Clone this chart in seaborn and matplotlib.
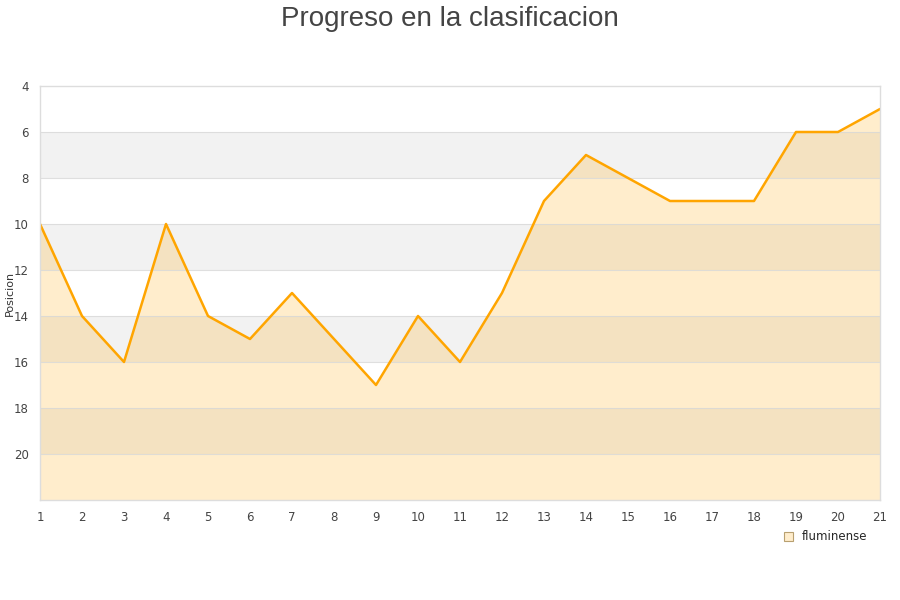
import matplotlib
matplotlib.use("Agg")
import matplotlib.pyplot as plt
import seaborn as sns
import pandas as pd
from matplotlib.patches import Patch

jornadas = list(range(1, 22))
posiciones = [10, 14, 16, 10, 14, 15, 13, 15, 17, 14, 16, 13, 9, 7, 8, 9, 9, 9, 6, 6, 5]
equipo = "fluminense"
titulo = "Progreso en la clasificacion"
ylab = "Posicion"

df = pd.DataFrame({"Jornada": jornadas, "Posicion": posiciones})

sns.set_style("white")
plt.rcParams['font.family'] = ['DejaVu Sans']

fig = plt.figure(figsize=(9, 6), dpi=100)
ax = fig.add_axes([40/900, 100/600, 840/900, 414/600])

ymin, ymax = 4, 22
# alternating bands
for y0 in range(4, 22, 2):
    if ((y0 - 4) // 2) % 2 == 1:
        ax.axhspan(y0, y0 + 2, color="#f2f2f2", zorder=0, lw=0)
for y in range(6, 22, 2):
    ax.axhline(y, color="#d8d8d8", lw=0.8, alpha=0.8, zorder=1.5)

ax.fill_between(df["Jornada"], df["Posicion"], ymax, color="#ffa500", alpha=0.2, lw=0, zorder=1)
sns.lineplot(data=df, x="Jornada", y="Posicion", ax=ax, color="#ffa500", lw=1.8, zorder=2)

ax.set_xlim(1, 21)
ax.set_ylim(ymax, ymin)
ax.set_xticks(jornadas)
ax.set_yticks(range(4, 21, 2))
ax.tick_params(axis="both", labelsize=8.5, colors="#444444", length=0, pad=8)
ax.set_xlabel("")
ax.set_ylabel(ylab, fontsize=8, color="#333333")
ax.yaxis.set_label_coords(-25/840, 0.5)
for s in ax.spines.values():
    s.set_color("#dddddd")
    s.set_linewidth(1)

fig.text(0.5, 1 - 19/600, titulo, fontsize=20, color="#444444", ha="center", va="center",
         family=["Liberation Sans", "DejaVu Sans"])

handle = Patch(facecolor="#ffedcc", edgecolor="#b8a070", lw=0.8)
fig.legend([handle], [equipo], loc="center", bbox_to_anchor=(826/900, 1 - 537/600),
           frameon=False, fontsize=8.5, handlelength=0.7, handleheight=0.7, handletextpad=0.8)

fig.savefig("out.png", dpi=100)
